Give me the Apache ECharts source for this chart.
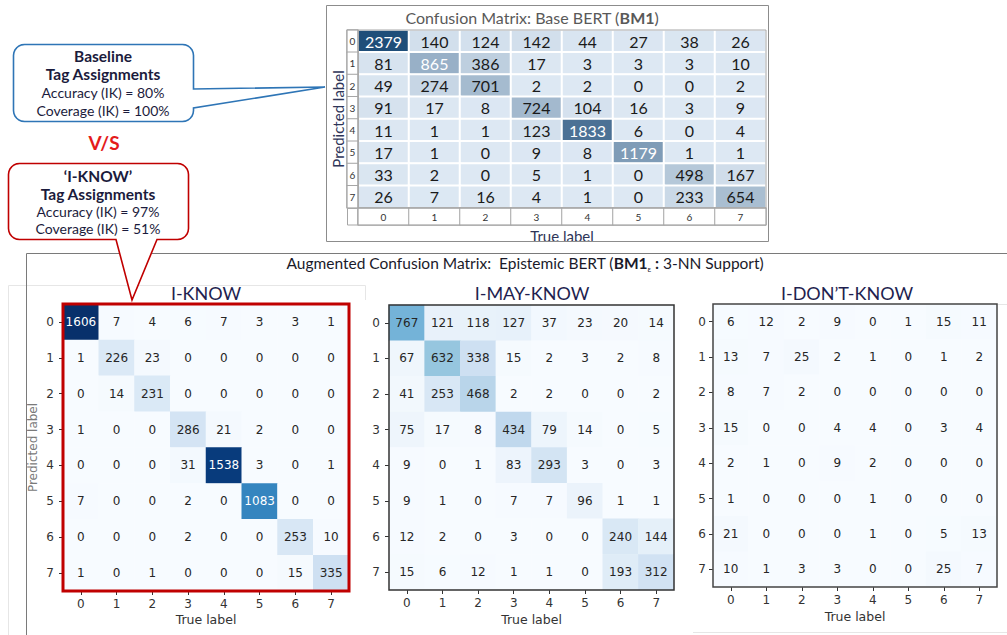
<!DOCTYPE html>
<html>
<head>
<meta charset="utf-8">
<script src="https://cdn.jsdelivr.net/npm/echarts@6/dist/echarts.min.js"></script>
<style>
  html, body { margin: 0; padding: 0; background: #ffffff; }
  #chart { width: 1007px; height: 635px; }
</style>
</head>
<body>
<div id="chart"></div>
<script>
// Class ids used on both axes of every matrix
const classLabels = ['0', '1', '2', '3', '4', '5', '6', '7'];

// Base BERT (BM1): rows = predicted label, columns = true label
const baseBertMatrix = [
  [2379, 140, 124, 142, 44, 27, 38, 26],
  [81, 865, 386, 17, 3, 3, 3, 10],
  [49, 274, 701, 2, 2, 0, 0, 2],
  [91, 17, 8, 724, 104, 16, 3, 9],
  [11, 1, 1, 123, 1833, 6, 0, 4],
  [17, 1, 0, 9, 8, 1179, 1, 1],
  [33, 2, 0, 5, 1, 0, 498, 167],
  [26, 7, 16, 4, 1, 0, 233, 654]
];

// Epistemic BERT, split by tag
const iKnowMatrix = [
  [1606, 7, 4, 6, 7, 3, 3, 1],
  [1, 226, 23, 0, 0, 0, 0, 0],
  [0, 14, 231, 0, 0, 0, 0, 0],
  [1, 0, 0, 286, 21, 2, 0, 0],
  [0, 0, 0, 31, 1538, 3, 0, 1],
  [7, 0, 0, 2, 0, 1083, 0, 0],
  [0, 0, 0, 2, 0, 0, 253, 10],
  [1, 0, 1, 0, 0, 0, 15, 335]
];
const iMayKnowMatrix = [
  [767, 121, 118, 127, 37, 23, 20, 14],
  [67, 632, 338, 15, 2, 3, 2, 8],
  [41, 253, 468, 2, 2, 0, 0, 2],
  [75, 17, 8, 434, 79, 14, 0, 5],
  [9, 0, 1, 83, 293, 3, 0, 3],
  [9, 1, 0, 7, 7, 96, 1, 1],
  [12, 2, 0, 3, 0, 0, 240, 144],
  [15, 6, 12, 1, 1, 0, 193, 312]
];
const iDontKnowMatrix = [
  [6, 12, 2, 9, 0, 1, 15, 11],
  [13, 7, 25, 2, 1, 0, 1, 2],
  [8, 7, 2, 0, 0, 0, 0, 0],
  [15, 0, 0, 4, 4, 0, 3, 4],
  [2, 1, 0, 9, 2, 0, 0, 0],
  [1, 0, 0, 0, 1, 0, 0, 0],
  [21, 0, 0, 0, 1, 0, 5, 13],
  [10, 1, 3, 3, 0, 0, 25, 7]
];

// Matplotlib "Blues" ramp
const bluesRamp = ['#f7fbff', '#deebf7', '#c6dbef', '#9ecae1', '#6baed6', '#4292c6', '#2171b5', '#08519c', '#08306b'];
const baseRamp = ['#dde8f3', '#1f4e79'];

const maxOf = m => Math.max(...m.map(r => Math.max(...r)));
const baseMax = maxOf(baseBertMatrix);
const sharedMax = Math.max(maxOf(iKnowMatrix), maxOf(iMayKnowMatrix), maxOf(iDontKnowMatrix));

function toCells(m) {
  const out = [];
  m.forEach((row, r) => row.forEach((v, c) => out.push([c, r, v])));
  return out;
}

const LATO = 'Lato, "Noto Sans", sans-serif';
const DEJAVU = '"DejaVu Sans", sans-serif';

// ---- axes of the three augmented matrices (matplotlib look) ----
function lowerXAxis(gridIndex, margin, nameGap) {
  return {
    type: 'category', gridIndex, data: classLabels, position: 'bottom',
    axisLine: { show: false },
    axisTick: { show: true, alignWithLabel: true, length: 4, lineStyle: { color: '#333', width: 1 } },
    axisLabel: { margin, fontFamily: DEJAVU, fontSize: 12, color: '#333' },
    splitLine: { show: false },
    name: 'True label', nameLocation: 'middle', nameGap,
    nameTextStyle: { fontFamily: DEJAVU, fontSize: 12.5, color: '#333' }
  };
}
function lowerYAxis(gridIndex, margin, withName) {
  const ax = {
    type: 'category', gridIndex, data: classLabels, inverse: true,
    axisLine: { show: false },
    axisTick: { show: true, alignWithLabel: true, length: 4, lineStyle: { color: '#333', width: 1 } },
    axisLabel: { margin, fontFamily: DEJAVU, fontSize: 12, color: '#333' },
    splitLine: { show: false }
  };
  if (withName) {
    ax.name = 'Predicted label';
    ax.nameLocation = 'middle';
    ax.nameGap = 24;
    ax.nameTextStyle = { fontFamily: DEJAVU, fontSize: 12, color: '#7a7a7a' };
  }
  return ax;
}
function hiddenAxis(gridIndex, data, inverse) {
  return { type: 'category', gridIndex, data, inverse: !!inverse, show: false };
}

function lowerSeries(name, matrix, xi) {
  return {
    name, type: 'heatmap', xAxisIndex: xi, yAxisIndex: xi,
    data: toCells(matrix),
    itemStyle: { borderWidth: 0 },
    label: {
      show: true,
      formatter: p => (p.value[2] > sharedMax / 2 ? '{w|' : '{k|') + p.value[2] + '}',
      rich: {
        w: { color: '#ffffff', fontFamily: DEJAVU, fontSize: 12 },
        k: { color: '#262626', fontFamily: DEJAVU, fontSize: 12 }
      }
    },
    emphasis: { disabled: true }
  };
}

// ---- callout outlines (rounded box with a pointer) ----
function calloutPoints(x0, y0, x1, y1, r, side, pointer) {
  const pts = [];
  const arc = (cx, cy, a0, a1) => {
    for (let i = 0; i <= 6; i++) {
      const a = (a0 + (a1 - a0) * i / 6) * Math.PI / 180;
      pts.push([cx + r * Math.cos(a), cy + r * Math.sin(a)]);
    }
  };
  arc(x1 - r, y0 + r, -90, 0);
  if (side === 'right') pts.push(...pointer);
  arc(x1 - r, y1 - r, 0, 90);
  if (side === 'bottom') pts.push(...pointer);
  arc(x0 + r, y1 - r, 90, 180);
  arc(x0 + r, y0 + r, 180, 270);
  return pts;
}

function textEl(text, x, y, font, fill, z) {
  return {
    type: 'text', x, y, silent: true, z: z || 10,
    style: { text, font, fill, align: 'center', verticalAlign: 'middle' }
  };
}

const navy = '#1b1b3c';
const boldCallout = 'bold 15.5px ' + LATO;
const plainCallout = '14px ' + LATO;
const graphics = [
  // frame around the base matrix
  { type: 'rect', silent: true, z: 1, shape: { x: 326.5, y: 5.5, width: 442, height: 236 },
    style: { fill: 'none', stroke: '#8c8c8c', lineWidth: 1 } },
  // empty corner of the index row/column
  { type: 'rect', silent: true, z: 1, shape: { x: 347.5, y: 208.5, width: 10.5, height: 16.5 },
    style: { fill: '#ffffff', stroke: '#a6a6a6', lineWidth: 1 } },
  // frame around the augmented section
  { type: 'polyline', silent: true, z: 1, shape: { points: [[26.5, 635], [26.5, 253.5], [1007, 253.5]] },
    style: { fill: 'none', stroke: '#7a7a7a', lineWidth: 1 } },
  // faint panel edges
  { type: 'polyline', silent: true, z: 0, shape: { points: [[8.5, 635], [8.5, 285.5], [365.5, 285.5], [365.5, 300]] },
    style: { fill: 'none', stroke: '#e6e6e6', lineWidth: 1 } },
  { type: 'polyline', silent: true, z: 0, shape: { points: [[997, 304.5], [1007, 304.5]] },
    style: { fill: 'none', stroke: '#e6e6e6', lineWidth: 1 } },
  { type: 'polyline', silent: true, z: 0, shape: { points: [[693, 632.5], [1007, 632.5]] },
    style: { fill: 'none', stroke: '#e6e6e6', lineWidth: 1 } },

  // titles
  { type: 'text', x: 532, y: 17, silent: true, z: 10,
    style: {
      text: '{n|Confusion Matrix: Base BERT (}{b|BM1}{n|)}', align: 'center', verticalAlign: 'middle',
      rich: {
        n: { fontFamily: LATO, fontSize: 16, fill: '#595959' },
        b: { fontFamily: LATO, fontSize: 16, fontWeight: 'bold', fill: '#595959' }
      }
    } },
  { type: 'text', x: 525, y: 263, silent: true, z: 10,
    style: {
      text: '{n|Augmented Confusion Matrix:  Epistemic BERT (}{b|BM1}{s|ε}{b| :}{n| 3-NN Support)}',
      align: 'center', verticalAlign: 'middle',
      rich: {
        n: { fontFamily: LATO, fontSize: 15.5, fill: '#1a1a2a', lineHeight: 20 },
        b: { fontFamily: LATO, fontSize: 15.5, fontWeight: 'bold', fill: '#1a1a2a', lineHeight: 20 },
        s: { fontFamily: LATO, fontSize: 8, fill: '#1a1a2a', verticalAlign: 'bottom', lineHeight: 12 }
      }
    } },
  textEl('I-KNOW', 206, 293, '18px ' + LATO, '#1f1f50'),
  textEl('I-MAY-KNOW', 532, 293, '18px ' + LATO, '#1f1f50'),
  textEl('I-DON\u2019T-KNOW', 847, 293, '18px ' + LATO, '#1f1f50'),

  // baseline callout
  { type: 'polygon', silent: true, z: 8,
    shape: { points: calloutPoints(13.5, 44.5, 193.5, 121.5, 11, 'right', [[193.5, 89], [325, 87], [193.5, 108]]) },
    style: { fill: '#ffffff', stroke: '#2e75b6', lineWidth: 1.6 } },
  textEl('Baseline', 103, 56, boldCallout, navy),
  textEl('Tag Assignments', 103, 74, boldCallout, navy),
  textEl('Accuracy (IK) = 80%', 103, 92.5, plainCallout, navy),
  textEl('Coverage (IK) = 100%', 103, 110, plainCallout, navy),

  textEl('V/S', 104, 142, 'bold 19px ' + LATO, '#e41b1b'),

  // I-KNOW callout
  { type: 'polygon', silent: true, z: 8,
    shape: { points: calloutPoints(8.5, 163.5, 188.5, 239.5, 11, 'bottom', [[157, 239.5], [132, 300], [116, 239.5]]) },
    style: { fill: '#ffffff', stroke: '#c00000', lineWidth: 1.6 } },
  textEl('\u2018I-KNOW\u2019', 98, 176, boldCallout, navy),
  textEl('Tag Assignments', 98, 193.5, boldCallout, navy),
  textEl('Accuracy (IK) = 97%', 98, 211, plainCallout, navy),
  textEl('Coverage (IK) = 51%', 98, 228.5, plainCallout, navy)
];

const option = {
  animation: false,
  backgroundColor: '#ffffff',
  grid: [
    { left: 358, top: 30, width: 408, height: 178, show: true, z: 5, backgroundColor: 'transparent', borderColor: '#a6a6a6', borderWidth: 1 },
    { left: 347, top: 30, width: 11, height: 178, show: true, z: 5, backgroundColor: 'transparent', borderColor: '#a6a6a6', borderWidth: 1 },
    { left: 358, top: 208, width: 408, height: 17, show: true, z: 5, backgroundColor: 'transparent', borderColor: '#a6a6a6', borderWidth: 1 },
    { left: 63, top: 304, width: 286, height: 287, show: true, z: 5, backgroundColor: 'transparent', borderColor: '#c00000', borderWidth: 3 },
    { left: 389, top: 305, width: 285, height: 285, show: true, z: 5, backgroundColor: 'transparent', borderColor: '#333333', borderWidth: 1.5 },
    { left: 713, top: 304, width: 284, height: 283, show: true, z: 5, backgroundColor: 'transparent', borderColor: '#444444', borderWidth: 1.5 }
  ],
  xAxis: [
    { type: 'category', gridIndex: 0, data: classLabels, position: 'bottom',
      axisLine: { show: false }, axisTick: { show: false }, axisLabel: { show: false }, splitLine: { show: false },
      name: 'True label', nameLocation: 'middle', nameGap: 20,
      nameTextStyle: { fontFamily: LATO, fontSize: 15, color: '#2e3558' } },
    hiddenAxis(1, ['#']),
    hiddenAxis(2, classLabels),
    lowerXAxis(3, 7, 22),
    lowerXAxis(4, 7, 23),
    lowerXAxis(5, 7, 23)
  ],
  yAxis: [
    { type: 'category', gridIndex: 0, data: classLabels, inverse: true,
      axisLine: { show: false }, axisTick: { show: false }, axisLabel: { show: false }, splitLine: { show: false },
      name: 'Predicted label', nameLocation: 'middle', nameGap: 13,
      nameTextStyle: { fontFamily: LATO, fontSize: 15, color: '#2e3558' } },
    hiddenAxis(1, classLabels, true),
    hiddenAxis(2, ['#'], true),
    lowerYAxis(3, 9, true),
    lowerYAxis(4, 9, false),
    lowerYAxis(5, 7, false)
  ],
  visualMap: [
    { type: 'continuous', show: false, seriesIndex: 0, min: 0, max: baseMax, inRange: { color: baseRamp } },
    { type: 'continuous', show: false, seriesIndex: [1, 2], min: 0, max: 7, inRange: { color: ['#ffffff', '#ffffff'] } },
    { type: 'continuous', show: false, seriesIndex: [3, 4, 5], min: 0, max: sharedMax, inRange: { color: bluesRamp } }
  ],
  series: [
    {
      name: 'Base BERT', type: 'heatmap', xAxisIndex: 0, yAxisIndex: 0,
      data: toCells(baseBertMatrix),
      itemStyle: { borderColor: '#ffffff', borderWidth: 2 },
      label: {
        show: true,
        formatter: p => (p.value[2] > baseMax / 3 ? '{w|' : '{k|') + p.value[2] + '}',
        rich: {
          w: { color: '#ffffff', fontFamily: LATO, fontSize: 16 },
          k: { color: '#1a1a1a', fontFamily: LATO, fontSize: 16 }
        }
      },
      emphasis: { disabled: true }
    },
    {
      name: 'row index', type: 'heatmap', xAxisIndex: 1, yAxisIndex: 1,
      data: classLabels.map((l, r) => [0, r, r]),
      itemStyle: { borderColor: '#a6a6a6', borderWidth: 1 },
      label: { show: true, formatter: p => classLabels[p.value[1]], fontFamily: LATO, fontSize: 10, color: '#333' },
      emphasis: { disabled: true }
    },
    {
      name: 'column index', type: 'heatmap', xAxisIndex: 2, yAxisIndex: 2,
      data: classLabels.map((l, c) => [c, 0, c]),
      itemStyle: { borderColor: '#a6a6a6', borderWidth: 1 },
      label: { show: true, formatter: p => classLabels[p.value[0]], fontFamily: LATO, fontSize: 10, color: '#333' },
      emphasis: { disabled: true }
    },
    lowerSeries('I-KNOW', iKnowMatrix, 3),
    lowerSeries('I-MAY-KNOW', iMayKnowMatrix, 4),
    lowerSeries('I-DON\u2019T-KNOW', iDontKnowMatrix, 5)
  ],
  graphic: { elements: graphics }
};

const chart = echarts.init(document.getElementById('chart'), null, { renderer: 'svg', width: 1007, height: 635 });
chart.setOption(option);
</script>
</body>
</html>
